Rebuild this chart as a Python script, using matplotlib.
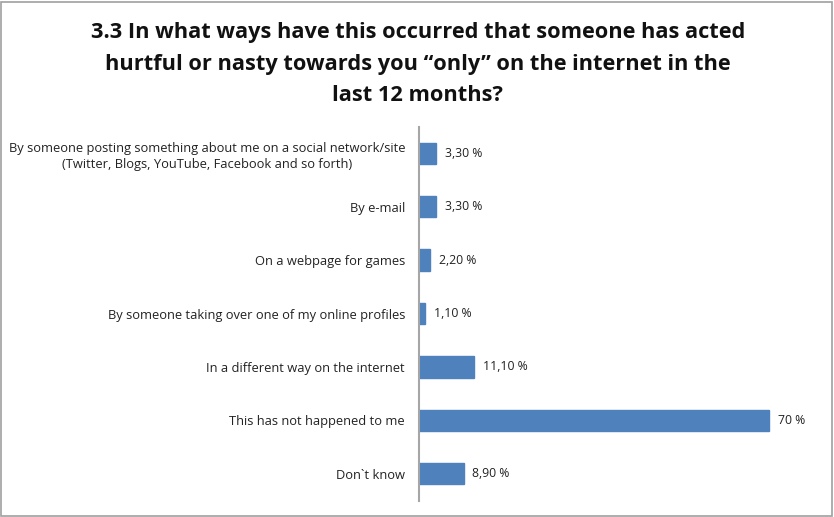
import matplotlib
matplotlib.use("Agg")
import matplotlib.pyplot as plt
from matplotlib.patches import Rectangle

# survey answers, top to bottom
categories = [
    "By someone posting something about me on a social network/site\n(Twitter, Blogs, YouTube, Facebook and so forth)",
    "By e-mail",
    "On a webpage for games",
    "By someone taking over one of my online profiles",
    "In a different way on the internet",
    "This has not happened to me",
    "Don`t know",
]
values = [3.3, 3.3, 2.2, 1.1, 11.1, 70, 8.9]
value_labels = ["3,30 %", "3,30 %", "2,20 %", "1,10 %", "11,10 %", "70 %", "8,90 %"]

title = ("3.3 In what ways have this occurred that someone has acted\n"
         "hurtful or nasty towards you \u201conly\u201d on the internet in the\n"
         "last 12 months?")

plt.rcParams['font.family'] = ['Open Sans', 'DejaVu Sans']

fig = plt.figure(figsize=(8.34, 5.17), dpi=100)
ax = fig.add_axes([0.5024, 0.0319, 0.4796, 0.7234])

y = list(range(len(categories)))
ax.barh(y, values, height=0.4, color="#4F81BD", edgecolor="#4F81BD")
ax.set_ylim(len(categories) - 0.5, -0.5)
ax.set_xlim(0, 80)

for yi, v, lab in zip(y, values, value_labels):
    ax.text(v + 1.8, yi, lab, va="center", ha="left", fontsize=8.8, color="#222222")

ax.set_yticks(y)
ax.set_yticklabels(categories, fontsize=9.3, color="#222222", ha="right",
                   multialignment="center", linespacing=1.3)
ax.tick_params(axis="y", length=0, pad=10)
ax.set_xticks([])

for s in ["top", "right", "bottom"]:
    ax.spines[s].set_visible(False)
ax.spines["left"].set_color("#A6A6A6")
ax.spines["left"].set_linewidth(1.5)

fig.text(0.501, 0.957, title, ha="center", va="top", fontsize=15.7,
         fontweight="bold", linespacing=1.65, color="#111111")

# outer frame
fig.patches.append(Rectangle((0.001, 0.002), 0.997, 0.995, transform=fig.transFigure,
                             fill=False, edgecolor="#A0A0A0", linewidth=1.2))

fig.savefig("out.png", dpi=100, facecolor="white")
